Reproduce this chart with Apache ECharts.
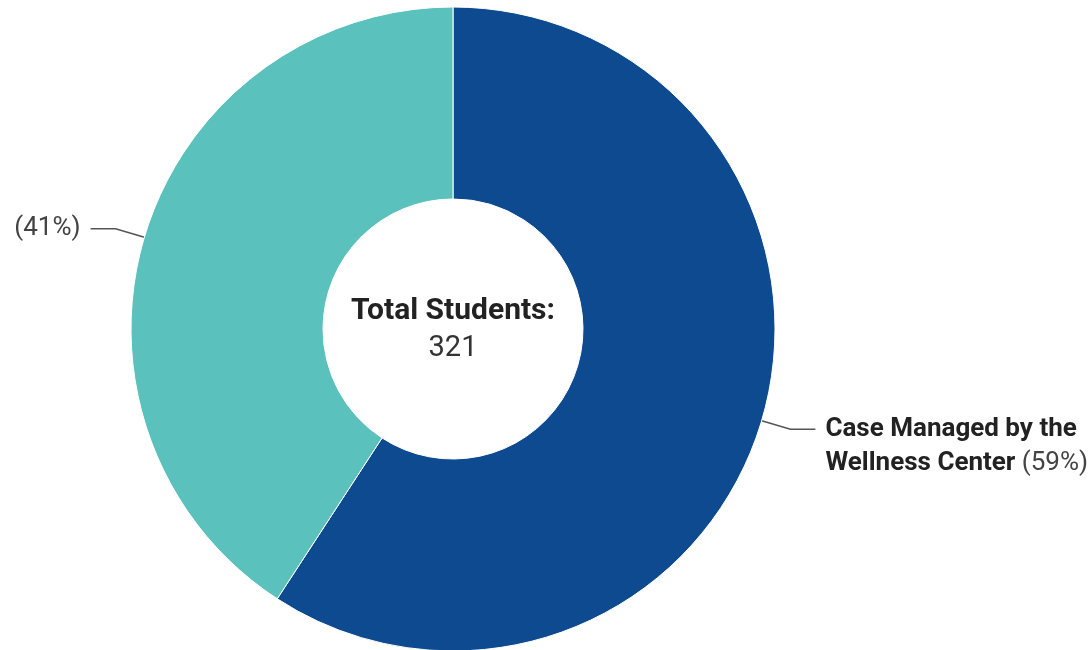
<!DOCTYPE html>
<html>
<head>
<meta charset="utf-8">
<script src="https://cdn.jsdelivr.net/npm/echarts@6/dist/echarts.min.js"></script>
<style>
    html, body { margin: 0; padding: 0; background: #fff; }
    #chart { width: 1089px; height: 650px; }
</style>
</head>
<body>
<div id="chart"></div>
<script>
// slice names (the second one has no visible name in the picture) and student counts
const names = ['Case Managed by the\nWellness Center', '']
const values = [190, 131]
const colors = ['#0E4A90', '#5AC1BD']
const totalLabel = 'Total Students:'
const total = values.reduce((a, b) => a + b, 0)

const myChart = echarts.init(document.getElementById('chart'))

const seriesData = names.map((n, i) => ({
    name: n,
    value: values[i],
    itemStyle: { color: colors[i] }
}))

const option = {
    animation: false,
    textStyle: { fontFamily: 'Roboto' },
    graphic: [
        {
            type: 'text',
            z: 100,
            style: {
                text: totalLabel,
                x: 453,
                y: 311,
                fontFamily: 'Roboto',
                fontSize: 30,
                fontWeight: 'bold',
                fill: '#222',
                textAlign: 'center',
                textVerticalAlign: 'middle'
            }
        },
        {
            type: 'text',
            z: 100,
            style: {
                text: String(total),
                x: 453,
                y: 349,
                fontFamily: 'Roboto',
                fontSize: 29,
                fill: '#333',
                textAlign: 'center',
                textVerticalAlign: 'middle'
            }
        }
    ],
    series: [{
        type: 'pie',
        center: [453, 329],
        radius: [130, 322],
        startAngle: 90,
        clockwise: true,
        itemStyle: { borderColor: '#fff', borderWidth: 1 },
        labelLine: {
            length: 30,
            length2: 25,
            lineStyle: { color: '#555', width: 1.5 }
        },
        label: {
            fontFamily: 'Roboto',
            fontSize: 26,
            lineHeight: 34,
            color: '#222',
            overflow: 'none',
            distanceToLabelLine: 10,
            formatter: function (p) {
                const pct = '{p|(' + Math.round(p.percent) + '%)}'
                if (!p.name) return pct
                const lines = p.name.split('\n')
                return lines.map((l, i) => '{b|' + l + '}' + (i === lines.length - 1 ? ' ' + pct : '')).join('\n')
            },
            rich: {
                b: { fontFamily: 'Roboto', fontSize: 26, fontWeight: 'bold', color: '#222', lineHeight: 34 },
                p: { fontFamily: 'Roboto', fontSize: 26, color: '#444', lineHeight: 34 }
            }
        },
        data: seriesData
    }]
}
// push the two-line label down so the leader line points at its first line
option.series[0].data[0].label = { padding: [34, 0, 0, 0] }

myChart.setOption(option)
window.addEventListener('resize', myChart.resize)
</script>
</body>
</html>
